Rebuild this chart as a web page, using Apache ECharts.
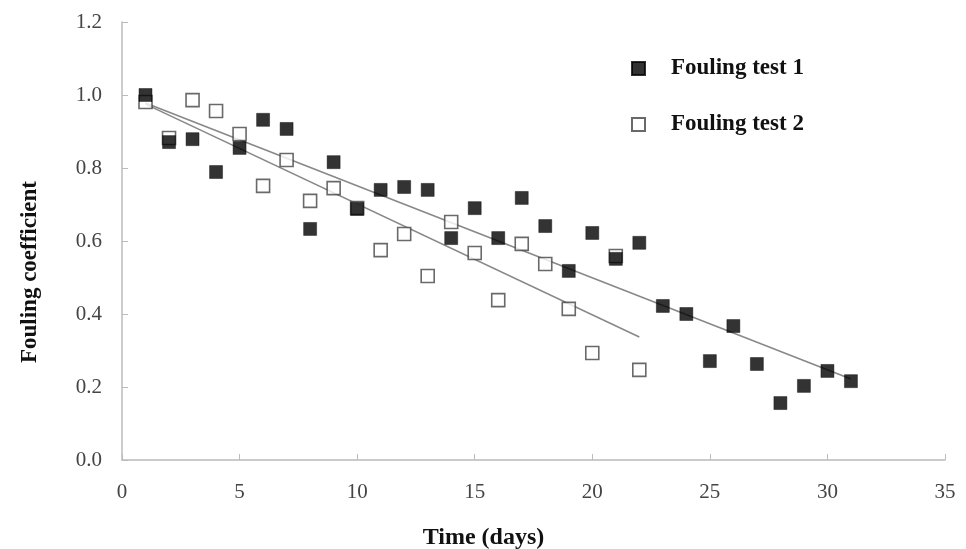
<!DOCTYPE html>
<html>
<head>
<meta charset="utf-8">
<script src="https://cdn.jsdelivr.net/npm/echarts@6/dist/echarts.min.js"></script>
<style>
  html, body { margin: 0; padding: 0; background: #fff; }
  #myChart { width: 966px; height: 549px; }
</style>
</head>
<body>
<div id="myChart"></div>
<script>
// days and fouling coefficients
const days1 = [1, 2, 3, 4, 5, 6, 7, 8, 9, 10, 11, 12, 13, 14, 15, 16, 17, 18, 19, 20, 21, 22, 23, 24, 25, 26, 27, 28, 29, 30, 31];
const test1 = [1.0, 0.871, 0.879, 0.789, 0.855, 0.932, 0.907, 0.633, 0.816, 0.688, 0.74, 0.748, 0.74, 0.608, 0.69, 0.608,
  0.718, 0.641, 0.518, 0.622, 0.551, 0.595, 0.422, 0.40, 0.271, 0.367, 0.263, 0.156, 0.203, 0.244, 0.216];
const days2 = [1, 2, 3, 4, 5, 6, 7, 8, 9, 10, 11, 12, 13, 14, 15, 16, 17, 18, 19, 20, 21, 22];
const test2 = [0.981, 0.882, 0.986, 0.956, 0.893, 0.751, 0.822, 0.71, 0.745, 0.69, 0.575, 0.619, 0.504, 0.652, 0.567,
  0.438, 0.592, 0.537, 0.414, 0.293, 0.559, 0.247];
// trend line end points (start day/value, end day/value)
const trend1 = [[1, 0.978], [31, 0.222]];
const trend2 = [[1, 0.975], [22, 0.337]];

const names = ["Fouling test 1", "Fouling test 2"];

function pairs(xs, ys) {
  return xs.map((x, i) => [x, ys[i]]);
}

let myChart = echarts.init(document.getElementById("myChart"));
myChart.setOption({
  animation: false,
  backgroundColor: "#fff",
  grid: {
    left: 122,
    right: 21,
    top: 22,
    bottom: 89,
    outerBoundsMode: "none",
  },
  legend: {
    data: names,
    orient: "vertical",
    left: 626,
    top: 52,
    itemGap: 33,
    itemWidth: 13,
    itemHeight: 13,
    textStyle: {
      fontFamily: "Liberation Serif",
      fontWeight: "bold",
      fontSize: 23,
      color: "#111",
      padding: [0, 0, 0, 21],
    },
  },
  xAxis: {
    type: "value",
    min: 0,
    max: 35,
    interval: 5,
    name: "Time (days)",
    nameLocation: "middle",
    nameGap: 66,
    nameTextStyle: {
      fontFamily: "Liberation Serif",
      fontWeight: "bold",
      fontSize: 24,
      color: "#111",
      padding: [0, 100, 0, 0],
    },
    axisLine: { lineStyle: { color: "#bbb", width: 1.5 } },
    axisTick: { inside: true, length: 6, lineStyle: { color: "#bbb" } },
    axisLabel: {
      margin: 22,
      fontFamily: "Liberation Serif",
      fontSize: 21,
      color: "#444",
    },
    splitLine: { show: false },
  },
  yAxis: {
    type: "value",
    min: 0,
    max: 1.2,
    interval: 0.2,
    name: "Fouling coefficient",
    nameLocation: "middle",
    nameGap: 80,
    nameTextStyle: {
      fontFamily: "Liberation Serif",
      fontWeight: "bold",
      fontSize: 23,
      color: "#111",
      padding: [0, 62, 0, 0],
    },
    axisLine: { show: true, lineStyle: { color: "#bbb", width: 1.5 } },
    axisTick: { show: true, inside: true, length: 6, lineStyle: { color: "#bbb" } },
    axisLabel: {
      margin: 20,
      fontFamily: "Liberation Serif",
      fontSize: 21,
      color: "#444",
      formatter: (v) => v.toFixed(1),
    },
    splitLine: { show: false },
  },
  series: [
    {
      name: "trend 2",
      type: "line",
      data: trend2,
      showSymbol: false,
      lineStyle: { color: "#888", width: 1.6 },
      silent: true,
      z: 1,
    },
    {
      name: "trend 1",
      type: "line",
      data: trend1,
      showSymbol: false,
      lineStyle: { color: "#888", width: 1.6 },
      silent: true,
      z: 1,
    },
    {
      name: names[1],
      type: "scatter",
      data: pairs(days2, test2),
      symbol: "rect",
      symbolSize: 13,
      itemStyle: { color: "#fff", borderColor: "#444", borderWidth: 1.6 },
      z: 2,
    },
    {
      name: names[0],
      type: "scatter",
      data: pairs(days1, test1),
      symbol: "rect",
      symbolSize: 13,
      itemStyle: { color: "#000", borderColor: "#000", borderWidth: 0.5 },
      z: 3,
    },
  ],
});
</script>
</body>
</html>
